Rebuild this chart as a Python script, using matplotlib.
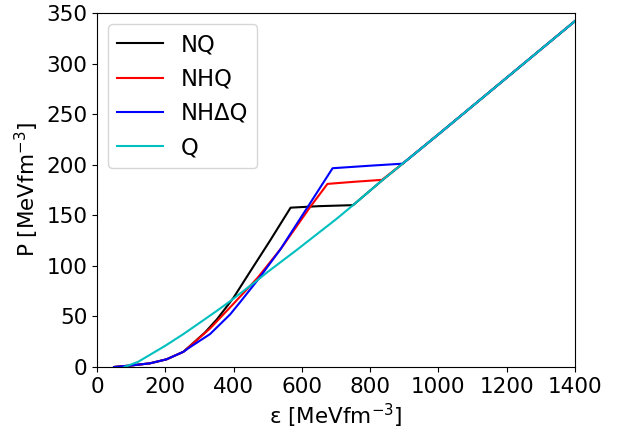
import numpy as np
import matplotlib
matplotlib.use('Agg')
import matplotlib.pyplot as plt

# energy density / pressure points (MeV fm^-3)
eps_nq = [50, 100, 155, 204, 253, 273, 316, 351, 399, 448, 507, 567, 650, 750, 835, 895, 1000, 1200, 1400]
p_nq = [0, 1.5, 3.6, 7.6, 15, 21, 34, 47, 68, 94, 125, 157.5, 159, 160, 184.5, 201, 230, 286, 342]

eps_nhq = [50, 100, 155, 204, 253, 272, 331, 390, 448, 470, 541, 624, 675, 750, 835, 895, 1000, 1200, 1400]
p_nhq = [0, 1.5, 3.6, 7.6, 15, 20.5, 38, 59, 80, 88, 118, 158, 181, 183, 185, 201, 230, 286, 342]

eps_nhdq = [50, 100, 155, 204, 253, 272, 331, 390, 419, 473, 536, 624, 690, 800, 895, 1000, 1200, 1400]
p_nhdq = [0, 1.5, 3.6, 7.6, 15, 19.5, 32.5, 52, 64, 87, 115.7, 161.8, 196.5, 199, 201, 230, 286, 342]

eps_q = [80, 120, 155, 200, 253, 300, 351, 390, 409, 463, 500, 585, 624, 700, 750, 835, 895, 1000, 1100, 1200, 1300, 1400]
p_q = [0, 5, 12, 21, 32.5, 43.5, 55.5, 65, 70, 84, 94, 115.7, 126, 146, 160, 184.5, 201, 230, 258, 286, 314, 342]

plt.rcParams['font.size'] = 15.5
fig = plt.figure(figsize=(6.24, 4.32), dpi=100)
ax = fig.add_axes([0.1554, 0.1505, 0.7661, 0.8195])

ax.plot(eps_nq, p_nq, color='k', lw=1.5, label='NQ')
ax.plot(eps_nhq, p_nhq, color='r', lw=1.5, label='NHQ')
ax.plot(eps_nhdq, p_nhdq, color='b', lw=1.5, label='NH\u0394Q')
ax.plot(eps_q, p_q, color='c', lw=1.5, label='Q')

ax.set_xlim(0, 1400)
ax.set_ylim(0, 350)
ax.set_xlabel('\u03b5 [MeVfm$^{-3}$]')
ax.set_ylabel('P [MeVfm$^{-3}$]')
ax.legend(loc='upper left', fontsize=16.3)

fig.savefig('out.png', dpi=100)
